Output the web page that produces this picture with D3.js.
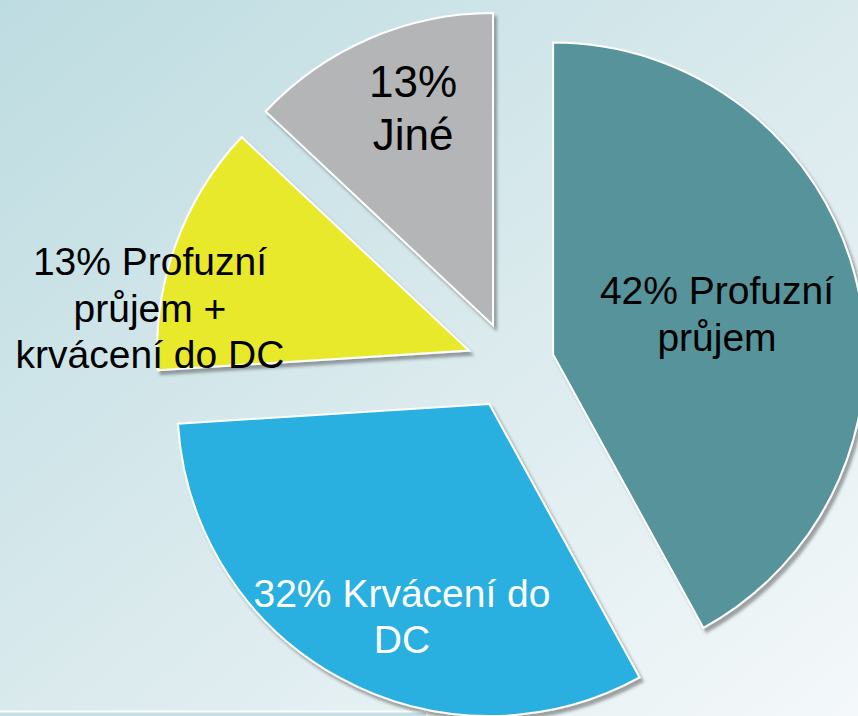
<!DOCTYPE html>
<html>
<head>
<meta charset="utf-8">
<script src="https://cdn.jsdelivr.net/npm/d3@7"></script>
<style>
  html, body { margin: 0; padding: 0; overflow: hidden; }
  svg { display: block; }
</style>
</head>
<body>
<svg width="858" height="716"></svg>
<script>
var svg = d3.select("svg");

// data
var categories = ["Profuzní průjem", "Krvácení do DC", "Profuzní průjem + krvácení do DC", "Jiné"];
var values = [42, 32, 13, 13];
var labelLines = [
    ["42% Profuzní", "průjem"],
    ["32% Krvácení do", "DC"],
    ["13% Profuzní", "průjem +", "krvácení do DC"],
    ["13%", "Jiné"]
];
var colors = ["#56939a", "#2cb0e0", "#e8e92c", "#b3b5b6"];

var w = 858,
    h = 716,
    cx = 510.5,
    cy = 365.5,
    radius = 312,
    explode = 44;

// label anchors (x centre, first baseline, size, line height, colour)
var labelPos = [
    [717, 304, 39, 47, "#000"],
    [402, 607, 39, 46, "#fff"],
    [150, 275, 39, 46.7, "#000"],
    [413, 97, 44, 53, "#000"]
];

var defs = svg.append("defs");

var grad = defs.append("linearGradient")
    .attr("id", "bg")
    .attr("x1", "0%").attr("y1", "0%")
    .attr("x2", "100%").attr("y2", "100%");
grad.append("stop").attr("offset", "0%").attr("stop-color", "#bddce1");
grad.append("stop").attr("offset", "55%").attr("stop-color", "#dcebee");
grad.append("stop").attr("offset", "100%").attr("stop-color", "#f4f8fa");

var shadow = defs.append("filter")
    .attr("id", "shadow")
    .attr("x", "-10%").attr("y", "-10%")
    .attr("width", "130%").attr("height", "130%");
shadow.append("feDropShadow")
    .attr("dx", 3)
    .attr("dy", 4)
    .attr("stdDeviation", 1.6)
    .attr("flood-color", "#3a3a3a")
    .attr("flood-opacity", 0.45);

svg.append("rect")
    .attr("width", w)
    .attr("height", h)
    .attr("fill", "url(#bg)");

// slide footer strip bottom-left
svg.append("rect")
    .attr("x", 0).attr("y", 712)
    .attr("width", 427).attr("height", 4)
    .attr("fill", "#c6e1e5");
svg.append("line")
    .attr("x1", 0).attr("y1", 711.5)
    .attr("x2", 427).attr("y2", 711.5)
    .attr("stroke", "#fff").attr("stroke-width", 2);
svg.append("line")
    .attr("x1", 427).attr("y1", 711)
    .attr("x2", 427).attr("y2", 716)
    .attr("stroke", "#fff").attr("stroke-width", 1.5);

var pie = d3.pie().sort(null).value(function(d) { return d; });
var arcs = pie(values);

var arc = d3.arc()
    .innerRadius(0)
    .outerRadius(radius);

var g = svg.append("g")
    .attr("transform", "translate(" + cx + "," + cy + ")");

g.selectAll("path")
    .data(arcs)
    .enter()
    .append("path")
    .attr("d", arc)
    .attr("transform", function(d) {
        var a = (d.startAngle + d.endAngle) / 2;
        return "translate(" + (Math.sin(a) * explode) + "," + (-Math.cos(a) * explode) + ")";
    })
    .attr("fill", function(d, i) { return colors[i]; })
    .attr("stroke", "#fff")
    .attr("stroke-width", 2)
    .attr("stroke-linejoin", "miter")
    .attr("filter", "url(#shadow)");

var labels = svg.selectAll("text.lbl")
    .data(labelLines)
    .enter()
    .append("text")
    .attr("class", "lbl")
    .attr("font-family", "'Liberation Sans', Arial, sans-serif")
    .attr("font-size", function(d, i) { return labelPos[i][2] + "px"; })
    .attr("fill", function(d, i) { return labelPos[i][4]; })
    .attr("text-anchor", "middle");

labels.each(function(lines, i) {
    var p = labelPos[i];
    d3.select(this).selectAll("tspan")
        .data(lines)
        .enter()
        .append("tspan")
        .attr("x", p[0])
        .attr("y", function(d, j) { return p[1] + j * p[3]; })
        .text(function(d) { return d; });
});
</script>
</body>
</html>
